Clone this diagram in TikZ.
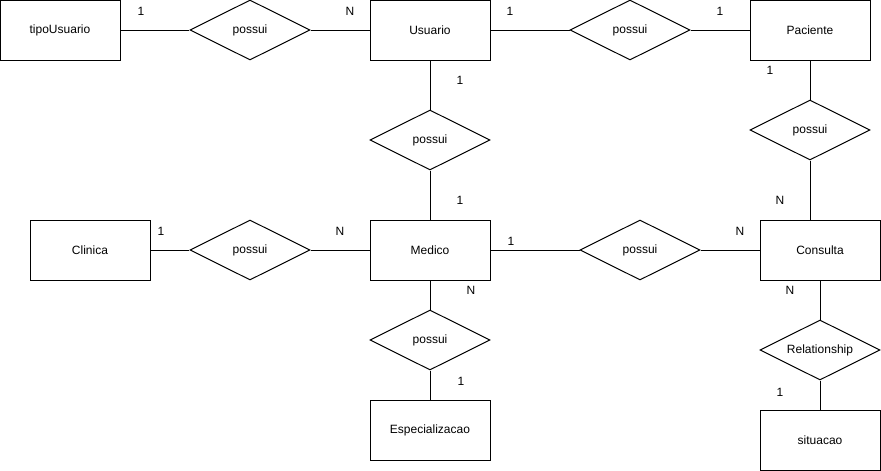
\documentclass[tikz,border=0pt]{standalone}
\usepackage{fontspec}
\setmainfont{Liberation Sans}
\usetikzlibrary{shapes.geometric}

\begin{document}
\begin{tikzpicture}[x=1pt,y=-1pt,line width=1pt,
    entity/.style={draw, rectangle, minimum width=120pt, minimum height=60pt, inner sep=0pt,
      font=\fontsize{12}{14}\selectfont},
    rel/.style={draw, diamond, minimum width=120pt, minimum height=60pt, inner sep=0pt,
      font=\fontsize{12}{14}\selectfont},
    card/.style={inner sep=0pt, font=\fontsize{12}{14}\selectfont}]
    \useasboundingbox (0,0) rectangle (881,471);
    % entidades
    \node[entity] (tipo) at (60,30) {tipoUsuario};
    \node[entity] (usuario) at (430,30) {Usuario};
    \node[entity] (paciente) at (810,30) {Paciente};
    \node[entity] (clinica) at (90,250) {Clinica};
    \node[entity] (medico) at (430,250) {Medico};
    \node[entity] (consulta) at (820,250) {Consulta};
    \node[entity] (espec) at (430,430) {Especializacao};
    \node[entity] (situacao) at (820,440) {situacao};
    % relacionamentos
    \node[rel] (pTipo) at (250,30) {\makebox[0pt]{possui}};
    \node[rel] (pPac) at (630,30) {\makebox[0pt]{possui}};
    \node[rel] (pUsu) at (430,140) {\makebox[0pt]{possui}};
    \node[rel] (pCons) at (810,130) {\makebox[0pt]{possui}};
    \node[rel] (pClin) at (250,250) {\makebox[0pt]{possui}};
    \node[rel] (pMed) at (640,250) {\makebox[0pt]{possui}};
    \node[rel] (pEsp) at (430,340) {\makebox[0pt]{possui}};
    \node[rel] (rSit) at (820,350) {\makebox[0pt]{Relationship}};
    % ligacoes
    \draw (tipo) -- (pTipo) -- (usuario);
    \draw (usuario) -- (pPac) -- (paciente);
    \draw (usuario) -- (pUsu) -- (medico);
    \draw (paciente) -- (pCons);
    \draw (pCons.south) -- (pCons.south |- consulta.north);
    \draw (clinica) -- (pClin) -- (medico);
    \draw (medico) -- (pMed) -- (consulta);
    \draw (medico) -- (pEsp) -- (espec);
    \draw (consulta) -- (rSit) -- (situacao);
    % cardinalidades
    \node[card] (c1) at (141,11) {1};
    \node[card] (c2) at (350,11) {N};
    \node[card] (c3) at (510,11) {1};
    \node[card] (c4) at (720,11) {1};
    \node[card] (c5) at (460,80) {1};
    \node[card] (c6) at (460,200) {1};
    \node[card] (c7) at (770,70) {1};
    \node[card] (c8) at (780,200) {N};
    \node[card] (c9) at (161,231) {1};
    \node[card] (c10) at (340,231) {N};
    \node[card] (c11) at (511,241) {1};
    \node[card] (c12) at (740,231) {N};
    \node[card] (c13) at (471,290) {N};
    \node[card] (c14) at (461,381) {1};
    \node[card] (c15) at (790,290) {N};
    \node[card] (c16) at (780,392) {1};
\end{tikzpicture}
\end{document}
